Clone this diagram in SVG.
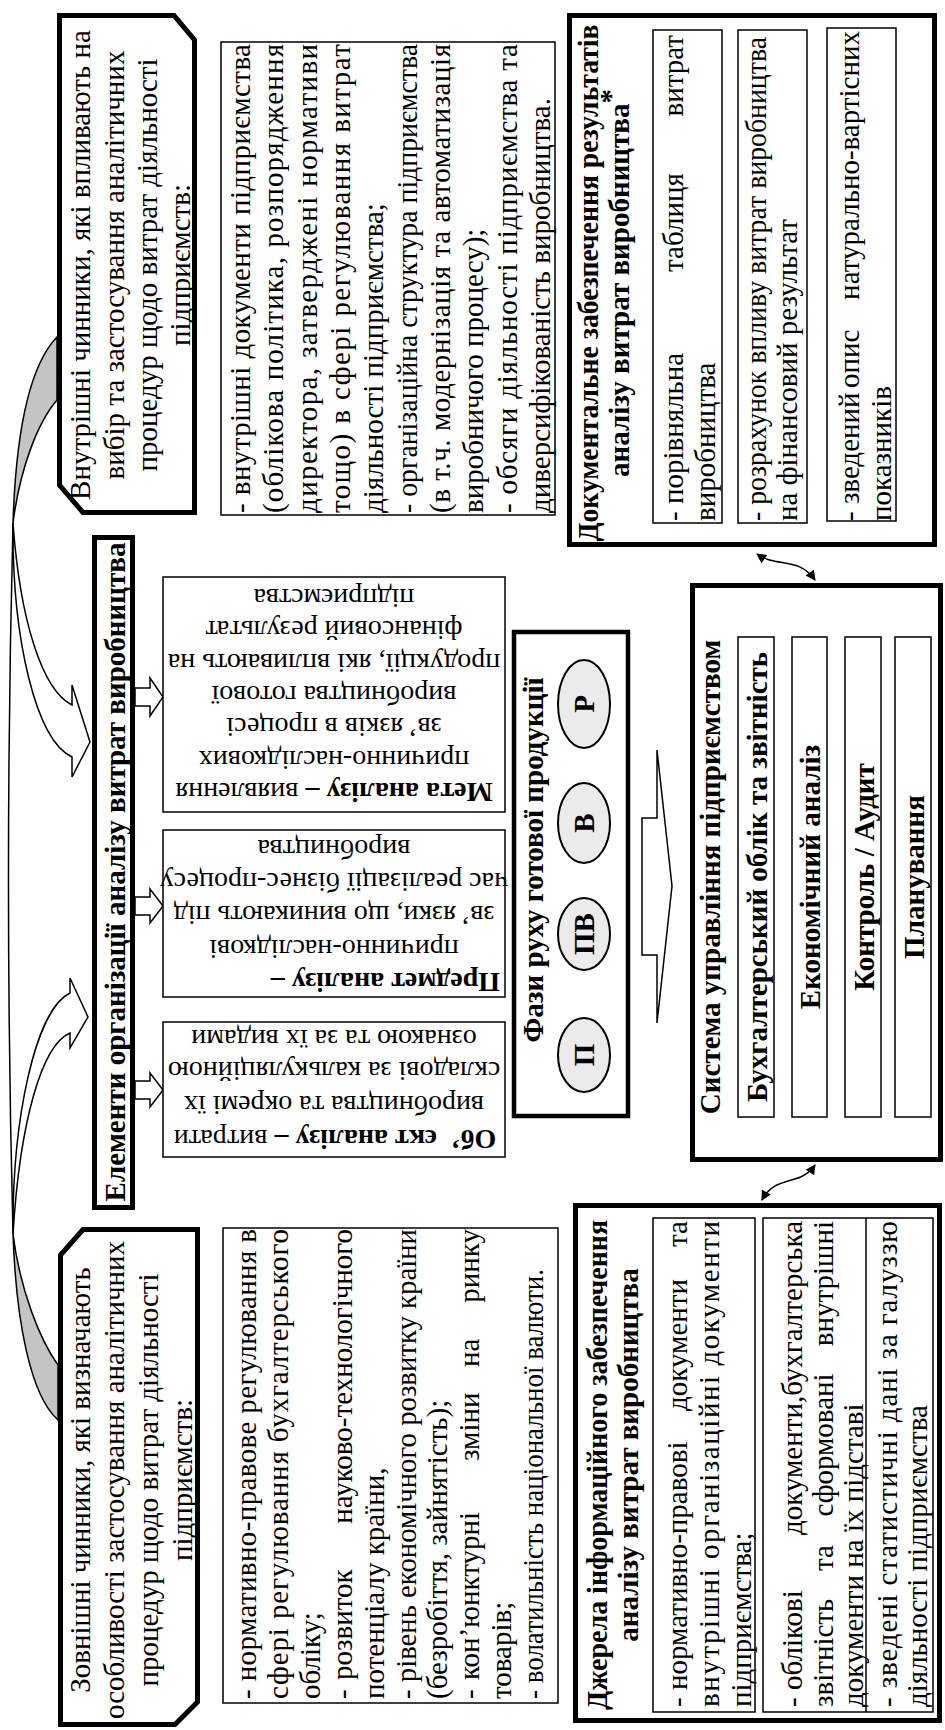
<svg xmlns="http://www.w3.org/2000/svg" width="945" height="1730" viewBox="0 0 945 1730">
<defs>
<style>
.thick{fill:#fff;stroke:#000;stroke-width:5}
.med{fill:#fff;stroke:#000;stroke-width:4.5}
.thin{fill:#fff;stroke:#000;stroke-width:1.5}
.ln{fill:none;stroke:#000;stroke-width:1.5}
.ell{fill:#ebebeb;stroke:#000;stroke-width:2}
.gray{fill:#c4c4c4;stroke:#000;stroke-width:1.5}
text{font-family:"Liberation Serif","Times New Roman",serif;font-size:29px;font-weight:400;fill:#000}
.b{font-weight:700}
.m{text-anchor:middle}
.e{text-anchor:end}
.s28{font-size:28px}
</style>
<marker id="ah" viewBox="0 0 10 10" refX="9" refY="5" markerWidth="11" markerHeight="10" markerUnits="userSpaceOnUse" orient="auto-start-reverse"><path d="M0,0 L10,5 L0,10 z" fill="#000"/></marker>
</defs>
<rect width="945" height="1730" fill="#fff"/>

<g id="connectors">
  <!-- long outer curve on the left -->
  <path class="ln" d="M13,523 C7,760 7,1000 13,1234"/>
  <!-- curved arrow from internal factors -->
  <path class="gray" d="M57,337 C30,365 16,430 13,523 C20,468 38,422 57,400 Z"/>
  <path class="thin" d="M13,523 C12,640 36,740 72,757 L72,777 L90,742 L72,685 L72,705 C42,690 20,620 13,523 Z"/>
  <!-- curved arrow from external factors -->
  <path class="gray" d="M58,1420 C30,1395 16,1320 13,1234 C20,1290 40,1340 58,1365 Z"/>
  <path class="thin" d="M13,1234 C12,1120 35,1010 70,993 L70,978 L88,1017 L70,1048 L70,1033 C42,1045 20,1120 13,1234 Z"/>
  <!-- block arrows title -> boxes -->
  <polygon class="thin" points="135,688 150,688 150,678 163,697 150,716 150,706 135,706"/>
  <polygon class="thin" points="135,897 150,897 150,889 163,906 150,923 150,915 135,915"/>
  <polygon class="thin" points="135,1081 150,1081 150,1073 163,1090 150,1107 150,1099 135,1099"/>
  <!-- phases chain -->
  <line class="ln" x1="584" y1="1018" x2="584" y2="971" marker-end="url(#ah)"/>
  <line class="ln" x1="584" y1="898" x2="584" y2="864" marker-end="url(#ah)"/>
  <line class="ln" x1="584" y1="783" x2="584" y2="749" marker-end="url(#ah)"/>
  <!-- big arrow phases -> management -->
  <polygon class="thin" points="642,818 657,818 657,750 672,886 657,1023 657,955 642,955"/>
  <!-- double connectors -->
  <path class="ln" d="M757,554 C777,568 798,556 815,580" marker-start="url(#ah)" marker-end="url(#ah)"/>
  <path class="ln" d="M815,1165 C800,1187 776,1174 762,1200" marker-start="url(#ah)" marker-end="url(#ah)"/>
</g>

<g id="internal-factors">
  <path class="thick" d="M59.5,15.5 H174 L194.5,40 V512.5 H83 L59.5,485 Z"/>
  <g transform="rotate(-90)">
    <text class="m" x="-265" y="90">Внутрішні чинники, які впливають на</text>
    <text class="m" x="-265" y="123.5">вибір та застосування аналітичних</text>
    <text class="m" x="-265" y="157">процедур щодо витрат діяльності</text>
    <text class="m" x="-265" y="190">підприємств:</text>
  </g>
</g>

<g id="internal-list">
  <rect class="thin" x="221" y="42" width="334" height="473"/>
  <g transform="rotate(-90)">
    <text x="-513" y="250" textLength="469">- внутрішні документи підприємства</text>
    <text x="-513" y="283.3" textLength="469">(облікова політика, розпорядження</text>
    <text x="-513" y="316.7" textLength="469">директора, затверджені нормативи</text>
    <text x="-513" y="350" textLength="469">тощо) в сфері регулювання витрат</text>
    <text x="-513" y="383.3">діяльності підприємства;</text>
    <text x="-513" y="416.7" textLength="469" lengthAdjust="spacingAndGlyphs">- організаційна структура підприємства</text>
    <text x="-513" y="450" textLength="469">(в т.ч. модернізація та автоматизація</text>
    <text x="-513" y="483.3">виробничого процесу);</text>
    <text x="-513" y="516.7" textLength="469">- обсяги діяльності підприємства та</text>
    <text x="-513" y="550">диверсифікованість виробництва.</text>
  </g>
</g>

<g id="doc-results">
  <rect class="thick" x="569.5" y="15.5" width="365" height="529"/>
  <rect class="thin" x="653" y="30" width="69" height="493"/>
  <rect class="thin" x="738" y="30" width="69" height="493"/>
  <rect class="thin" x="827" y="28" width="69" height="493"/>
  <g transform="rotate(-90)">
    <text class="b m" x="-283" y="598" textLength="517" lengthAdjust="spacingAndGlyphs">Документальне забезпечення результатів</text>
    <text class="b m" x="-283" y="629">аналізу витрат виробництва<tspan dy="-9">*</tspan></text>
    <text x="-521" y="683">- порівняльна</text>
    <text x="-272" y="683">таблиця</text>
    <text class="e" x="-35" y="683">витрат</text>
    <text x="-521" y="715">виробництва</text>
    <text x="-521" y="766" textLength="484" lengthAdjust="spacingAndGlyphs">- розрахунок впливу витрат виробництва</text>
    <text x="-521" y="797">на фінансовий результат</text>
    <text x="-521" y="859">- зведений</text>
    <text x="-388" y="859">опис</text>
    <text class="e" x="-31" y="859">натурально-вартісних</text>
    <text x="-521" y="891">показників</text>
  </g>
</g>

<g id="title">
  <rect class="thick" x="94.5" y="537.5" width="38" height="670"/>
  <text transform="rotate(-90)" class="b m" x="-872" y="125">Елементи організації аналізу витрат виробництва</text>
</g>

<g id="goal">
  <rect class="thin" x="163" y="577" width="342" height="235"/>
  <g transform="rotate(180)">
    <text class="s28 m" x="-334" y="-783"><tspan class="b">Мета аналізу –</tspan> виявлення</text>
    <text class="s28 m" x="-334" y="-751">причинно-наслідкових</text>
    <text class="s28 m" x="-334" y="-718">зв’ язків в процесі</text>
    <text class="s28 m" x="-334" y="-686">виробництва готової</text>
    <text class="s28 m" x="-334" y="-654">продукції, які впливають на</text>
    <text class="s28 m" x="-334" y="-621">фінансовий результат</text>
    <text class="s28 m" x="-334" y="-589">підприємства</text>
  </g>
</g>

<g id="subject">
  <rect class="thin" x="163" y="830" width="342" height="167"/>
  <g transform="rotate(180)">
    <text class="s28 b" x="-500" y="-973">Предмет аналізу –</text>
    <text class="s28 m" x="-334" y="-940">причинно-наслідкові</text>
    <text class="s28 m" x="-334" y="-906">зв’ язки, що виникають під</text>
    <text class="s28 m" x="-334" y="-873">час реалізації бізнес-процесу</text>
    <text class="s28 m" x="-334" y="-840">виробництва</text>
  </g>
</g>

<g id="object">
  <rect class="thin" x="163" y="1022" width="342" height="135"/>
  <g transform="rotate(180)">
    <text class="s28 m" x="-335" y="-1130"><tspan class="b">Об’&#160; єкт аналізу –</tspan> витрати</text>
    <text class="s28 m" x="-334" y="-1096">виробництва та окремі їх</text>
    <text class="s28 m" x="-334" y="-1062">складові за калькуляційною</text>
    <text class="s28 m" x="-334" y="-1030">ознакою та за їх видами</text>
  </g>
</g>

<g id="phases">
  <rect class="med" x="514" y="632" width="114" height="484"/>
  <ellipse class="ell" cx="584" cy="1055" rx="26" ry="37"/>
  <ellipse class="ell" cx="584" cy="934" rx="26" ry="36"/>
  <ellipse class="ell" cx="584" cy="823" rx="26" ry="40"/>
  <ellipse class="ell" cx="584" cy="704" rx="26" ry="44"/>
  <g transform="rotate(-90)">
    <text class="b m" x="-860" y="543">Фази руху готової продукції</text>
    <text class="b m" x="-1055" y="594">П</text>
    <text class="b m" x="-934" y="594">ПВ</text>
    <text class="b m" x="-823" y="594">В</text>
    <text class="b m" x="-704" y="594">Р</text>
  </g>
</g>

<g id="management">
  <rect class="thick" x="692.5" y="585.5" width="248" height="574"/>
  <rect class="thin" x="738" y="637" width="36" height="480"/>
  <rect class="thin" x="792" y="637" width="35" height="480"/>
  <rect class="thin" x="845" y="637" width="36" height="480"/>
  <rect class="thin" x="895" y="637" width="36" height="480"/>
  <g transform="rotate(-90)">
    <text class="b m" x="-877" y="720">Система управління підприємством</text>
    <text class="b m" x="-877" y="767">Бухгалтерський облік та звітність</text>
    <text class="b m" x="-877" y="820">Економічний аналіз</text>
    <text class="b m" x="-877" y="874">Контроль / Аудит</text>
    <text class="b m" x="-877" y="924">Планування</text>
  </g>
</g>

<g id="external-factors">
  <path class="thick" d="M83,1229.5 H197.5 V1702 L175,1724.5 H60.5 V1255 Z"/>
  <g transform="rotate(-90)">
    <text class="m" x="-1480" y="90">Зовнішні чинники, які визначають</text>
    <text class="m" x="-1480" y="124">особливості застосування аналітичних</text>
    <text class="m" x="-1480" y="158">процедур щодо витрат діяльності</text>
    <text class="m" x="-1480" y="192">підприємств:</text>
  </g>
</g>

<g id="external-list">
  <rect class="thin" x="223" y="1228" width="335" height="475"/>
  <g transform="rotate(-90)">
    <text x="-1699" y="256" textLength="470">- нормативно-правове регулювання в</text>
    <text x="-1699" y="288" textLength="470">сфері регулювання бухгалтерського</text>
    <text x="-1699" y="320">обліку;</text>
    <text x="-1699" y="352">-</text>
    <text x="-1680" y="352">розвиток</text>
    <text class="e" x="-1229" y="352">науково-технологічного</text>
    <text x="-1699" y="384">потенціалу країни,</text>
    <text x="-1699" y="415.5" textLength="470" lengthAdjust="spacingAndGlyphs">- рівень економічного розвитку країни</text>
    <text x="-1699" y="447">(безробіття, зайнятість);</text>
    <text x="-1699" y="479">-</text>
    <text x="-1680" y="479">кон’юнктурні</text>
    <text x="-1461" y="479">зміни</text>
    <text x="-1367" y="479">на</text>
    <text class="e" x="-1229" y="479">ринку</text>
    <text x="-1699" y="511">товарів;</text>
    <text x="-1699" y="543" textLength="430" lengthAdjust="spacingAndGlyphs">- волатильність національної валюти.</text>
  </g>
</g>

<g id="info-sources">
  <rect class="thick" x="575.5" y="1205.5" width="364" height="515"/>
  <rect class="thin" x="653" y="1218" width="102" height="494"/>
  <rect class="thin" x="763" y="1218" width="170" height="494"/>
  <line class="ln" x1="866" y1="1218" x2="866" y2="1712"/>
  <g transform="rotate(-90)">
    <text class="b m" x="-1465" y="607" textLength="490" lengthAdjust="spacingAndGlyphs">Джерела інформаційного забезпечення</text>
    <text class="b m" x="-1455" y="638">аналізу витрат виробництва</text>
    <text x="-1707" y="687">- нормативно-правові</text>
    <text x="-1411" y="687">документи</text>
    <text class="e" x="-1221" y="687">та</text>
    <text x="-1707" y="719" textLength="486">внутрішні організаційні документи</text>
    <text x="-1707" y="751">підприємства;</text>
    <text x="-1707" y="802">- облікові</text>
    <text class="e" x="-1221" y="802">документи,бухгалтерська</text>
    <text x="-1707" y="833">звітність</text>
    <text class="m" x="-1558" y="833">та</text>
    <text class="m" x="-1445" y="833">сформовані</text>
    <text class="e" x="-1221" y="833">внутрішні</text>
    <text x="-1707" y="863">документи на їх підставі</text>
    <text x="-1707" y="897" textLength="486">- зведені статистичні дані за галуззю</text>
    <text x="-1707" y="927">діяльності підприємства</text>
  </g>
</g>
</svg>
